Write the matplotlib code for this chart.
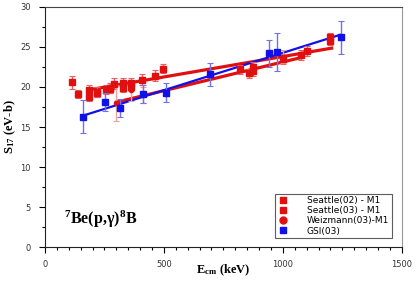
import matplotlib
matplotlib.use("Agg")
import matplotlib.pyplot as plt
from matplotlib.ticker import MultipleLocator
from matplotlib.lines import Line2D

plt.rcParams['mathtext.fontset'] = 'custom'
plt.rcParams['mathtext.rm'] = 'Liberation Serif:bold'
plt.rcParams['mathtext.it'] = 'Liberation Serif:bold'
plt.rcParams['mathtext.bf'] = 'Liberation Serif:bold'

# Seattle(02) - M1
s02_x = [114, 141, 186, 220, 256, 273, 291, 326, 360, 406, 462, 497, 819, 873, 1102, 1200]
s02_y = [20.6, 19.1, 19.6, 19.4, 19.7, 19.9, 20.4, 20.5, 20.5, 20.9, 21.4, 22.3, 22.2, 22.5, 24.5, 26.2]
s02_e = [0.8, 0.5, 0.6, 0.6, 0.6, 0.6, 0.7, 0.6, 0.6, 0.7, 0.7, 0.6, 0.6, 0.6, 0.6, 0.6]
# Seattle(03) - M1
s03_x = [186, 220, 273, 326, 360, 857, 873, 999, 1078, 1200]
s03_y = [18.7, 19.3, 19.7, 19.9, 20.0, 21.7, 22.0, 23.5, 24.0, 25.8]
s03_e = [0.5, 0.5, 0.5, 0.5, 0.5, 0.6, 0.6, 0.6, 0.6, 0.6]
# Weizmann(03)-M1
wz_x = [300, 360, 413, 999]
wz_y = [18.0, 19.6, 19.0, 23.8]
wz_e = [2.2, 1.3, 1.0, 0.8]
# GSI(03)
gsi_x = [158, 252, 315, 413, 508, 693, 941, 977, 1244]
gsi_y = [16.3, 18.1, 17.4, 19.1, 19.3, 21.6, 24.2, 24.4, 26.2]
gsi_e = [2.1, 1.1, 1.1, 1.1, 1.2, 1.45, 1.7, 2.4, 2.1]

# fit lines (end points)
fit02_x = [186, 1205]
fit02_y = [19.65, 24.85]
fit03_x = [300, 1080]
fit03_y = [18.1, 23.7]
fitgsi_x = [158, 1239]
fitgsi_y = [16.4, 26.5]

red = '#e01010'
blue = '#1010e8'

fig = plt.figure(figsize=(4.16, 2.88), dpi=100)
ax = fig.add_axes([0.108, 0.142, 0.858, 0.834])

ax.plot(fit02_x, fit02_y, color=red, lw=2.3, zorder=3)
ax.plot(fit03_x, fit03_y, color=red, lw=2.3, zorder=3)
ax.plot(fitgsi_x, fitgsi_y, color=blue, lw=1.6, zorder=4)

ekw = dict(elinewidth=1.0, capsize=2, capthick=0.8, ls='none')
ax.errorbar(s02_x, s02_y, yerr=s02_e, fmt='s', color=red, ms=4, ecolor='#ee6060', zorder=5, **ekw)
ax.errorbar(s03_x, s03_y, yerr=s03_e, fmt='s', color=red, ms=4, ecolor='#ee6060', zorder=5, **ekw)
ax.errorbar(wz_x, wz_y, yerr=wz_e, fmt='o', color=red, ms=3, ecolor='#f0a0a0', zorder=5, **ekw)
ax.errorbar(gsi_x, gsi_y, yerr=gsi_e, fmt='s', color=blue, ms=4, ecolor='#7070f0', zorder=6, **ekw)

ax.set_xlim(0, 1500)
ax.set_ylim(0, 30)
ax.xaxis.set_major_locator(MultipleLocator(500))
ax.xaxis.set_minor_locator(MultipleLocator(50))
ax.yaxis.set_major_locator(MultipleLocator(5))
ax.yaxis.set_minor_locator(MultipleLocator(2.5))
ax.tick_params(axis='both', which='major', direction='out', length=4, width=0.8,
               labelsize=6, labelcolor='#333333', pad=6)
ax.tick_params(axis='x', which='major', pad=5)
ax.tick_params(axis='both', which='minor', direction='out', length=2.5, width=0.8)
ax.tick_params(top=False, right=False)
ax.spines['left'].set_color('#222222')
ax.spines['bottom'].set_color('#222222')
ax.spines['top'].set_color('#444444')
ax.spines['right'].set_color('#999999')

ax.set_xlabel(r'$\mathrm{E_{cm}}$ (keV)', fontfamily='Liberation Serif',
              fontweight='bold', fontsize=9, labelpad=-4)
ax.set_ylabel(r'$\mathrm{S_{17}}$ (eV-b)', fontfamily='Liberation Serif',
              fontweight='bold', fontsize=9, labelpad=2)

ax.text(82, 2.9, r'$^{7}$Be(p,γ)$^{8}$B', fontfamily='Liberation Serif',
        fontweight='bold', fontsize=11.5)

handles = [
    Line2D([], [], marker='s', color=red, ls='none', ms=5),
    Line2D([], [], marker='s', color=red, ls='none', ms=5),
    Line2D([], [], marker='o', color=red, ls='none', ms=5),
    Line2D([], [], marker='s', color=blue, ls='none', ms=5),
]
labels = ['Seattle(02) - M1', 'Seattle(03) - M1', 'Weizmann(03)-M1', 'GSI(03)']
leg = ax.legend(handles, labels, loc='lower right', bbox_to_anchor=(0.972, 0.037),
                fontsize=6.5, frameon=True, fancybox=False, edgecolor='#333333',
                handlelength=1.2, handletextpad=2.0, labelspacing=0.12,
                borderpad=0.3, borderaxespad=0)
leg.get_frame().set_linewidth(0.8)

fig.savefig('out.png', dpi=100)
